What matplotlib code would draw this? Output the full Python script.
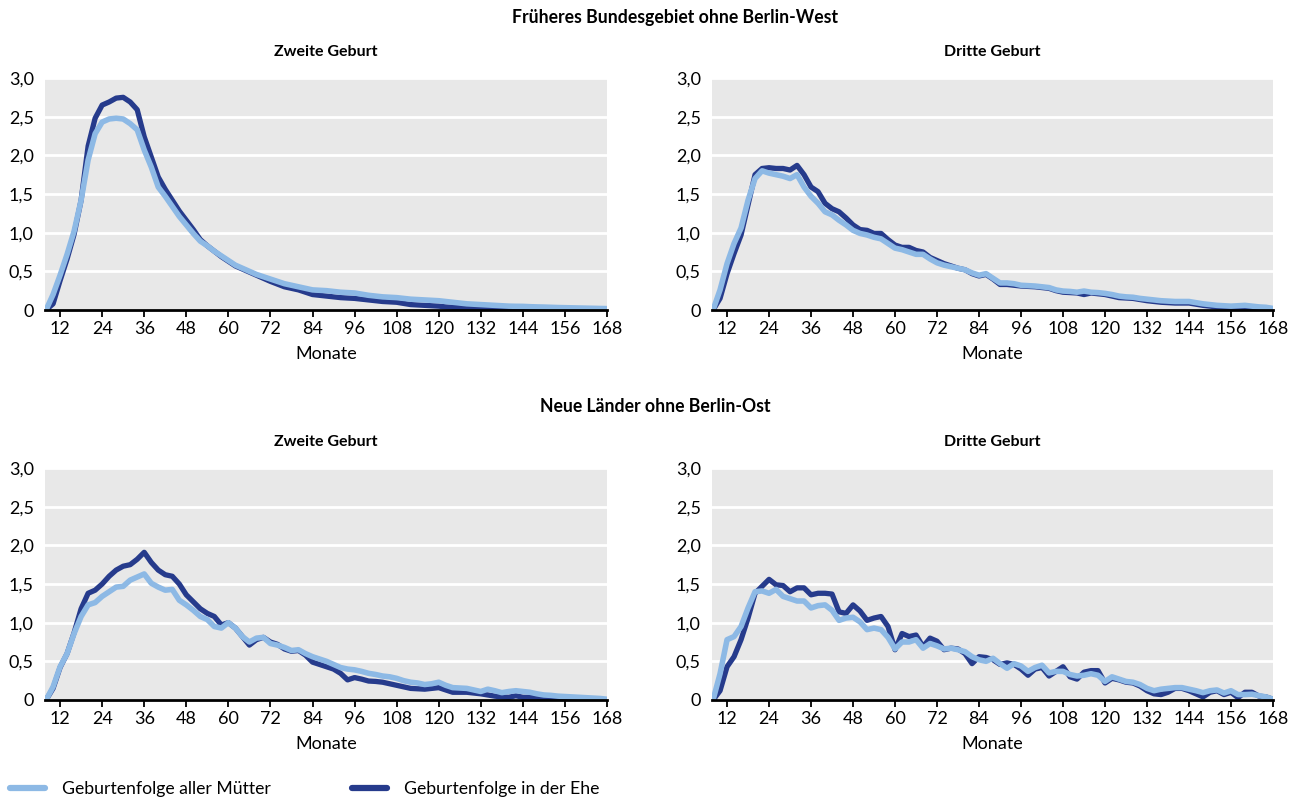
import numpy as np
import matplotlib.pyplot as plt
from matplotlib.lines import Line2D

plt.rcParams['font.family'] = ['Lato', 'DejaVu Sans']

# Monate 8, 10, ..., 168
months = list(range(8, 169, 2))

# Früheres Bundesgebiet, zweite Geburt
west2_all = [0.0, 0.2, 0.45, 0.72, 1.02, 1.42, 1.94, 2.28, 2.43, 2.47,
             2.48, 2.47, 2.41, 2.33, 2.07, 1.85, 1.59, 1.47, 1.34, 1.21,
             1.10, 0.99, 0.89, 0.83, 0.76, 0.70, 0.64, 0.58, 0.54, 0.50,
             0.46, 0.43, 0.40, 0.37, 0.34, 0.32, 0.30, 0.28, 0.26, 0.255,
             0.25, 0.24, 0.23, 0.225, 0.22, 0.205, 0.19, 0.18, 0.17, 0.165,
             0.16, 0.15, 0.14, 0.135, 0.13, 0.125, 0.12, 0.11, 0.10, 0.09,
             0.08, 0.075, 0.07, 0.065, 0.06, 0.055, 0.05, 0.048, 0.047, 0.043,
             0.04, 0.038, 0.035, 0.032, 0.03, 0.028, 0.026, 0.024, 0.022, 0.02,
             0.018]
west2_ehe = [0.0, 0.08, 0.38, 0.66, 0.98, 1.42, 2.12, 2.48, 2.65, 2.69,
             2.74, 2.75, 2.69, 2.59, 2.24, 1.98, 1.72, 1.56, 1.42, 1.28,
             1.16, 1.04, 0.91, 0.83, 0.76, 0.69, 0.63, 0.57, 0.53, 0.49,
             0.45, 0.41, 0.37, 0.335, 0.30, 0.28, 0.26, 0.23, 0.20, 0.19,
             0.18, 0.17, 0.16, 0.155, 0.15, 0.14, 0.13, 0.12, 0.11, 0.105,
             0.10, 0.085, 0.07, 0.065, 0.06, 0.055, 0.05, 0.04, 0.035, 0.03,
             0.02, 0.02, 0.02, 0.018, 0.015, 0.012, 0.01, 0.008, 0.006, 0.005,
             0.005, 0.004, 0.004, 0.003, 0.003, 0.002, 0.002, 0.002, 0.001, 0.001,
             0.0]

# Früheres Bundesgebiet, dritte Geburt
west3_all = [0.0, 0.26, 0.60, 0.86, 1.06, 1.42, 1.70, 1.80, 1.77, 1.75,
             1.73, 1.70, 1.75, 1.59, 1.47, 1.38, 1.27, 1.23, 1.16, 1.10,
             1.03, 0.99, 0.97, 0.94, 0.92, 0.86, 0.80, 0.78, 0.75, 0.72,
             0.72, 0.66, 0.61, 0.58, 0.56, 0.54, 0.52, 0.48, 0.45, 0.47,
             0.41, 0.35, 0.35, 0.34, 0.32, 0.315, 0.31, 0.30, 0.29, 0.26,
             0.245, 0.24, 0.23, 0.245, 0.23, 0.225, 0.215, 0.20, 0.18, 0.17,
             0.165, 0.15, 0.14, 0.13, 0.12, 0.115, 0.11, 0.11, 0.11, 0.095,
             0.08, 0.07, 0.06, 0.055, 0.05, 0.055, 0.06, 0.05, 0.04, 0.035,
             0.02]
west3_ehe = [0.0, 0.15, 0.47, 0.73, 0.97, 1.36, 1.75, 1.83, 1.84, 1.83,
             1.83, 1.81, 1.87, 1.75, 1.59, 1.53, 1.38, 1.31, 1.27, 1.19,
             1.10, 1.04, 1.03, 0.99, 0.99, 0.91, 0.84, 0.81, 0.81, 0.77,
             0.75, 0.68, 0.64, 0.60, 0.57, 0.54, 0.52, 0.47, 0.44, 0.46,
             0.40, 0.33, 0.33, 0.32, 0.31, 0.305, 0.30, 0.29, 0.28, 0.25,
             0.23, 0.225, 0.22, 0.20, 0.22, 0.21, 0.20, 0.18, 0.16, 0.155,
             0.15, 0.135, 0.12, 0.11, 0.10, 0.095, 0.09, 0.09, 0.09, 0.075,
             0.06, 0.05, 0.04, 0.035, 0.03, 0.03, 0.03, 0.03, 0.03, 0.02,
             0.0]

# Neue Länder, zweite Geburt
ost2_all = [0.0, 0.17, 0.43, 0.60, 0.86, 1.08, 1.23, 1.26, 1.34, 1.40,
            1.46, 1.47, 1.55, 1.59, 1.63, 1.51, 1.46, 1.42, 1.43, 1.29,
            1.23, 1.16, 1.08, 1.04, 0.95, 0.93, 1.00, 0.93, 0.82, 0.75,
            0.80, 0.81, 0.73, 0.71, 0.68, 0.64, 0.65, 0.60, 0.56, 0.53,
            0.50, 0.46, 0.42, 0.40, 0.39, 0.37, 0.345, 0.33, 0.31, 0.30,
            0.28, 0.25, 0.23, 0.22, 0.20, 0.21, 0.23, 0.19, 0.16, 0.155,
            0.15, 0.13, 0.11, 0.14, 0.12, 0.095, 0.11, 0.12, 0.11, 0.10,
            0.08, 0.065, 0.06, 0.05, 0.045, 0.04, 0.035, 0.03, 0.025, 0.02,
            0.01]
ost2_ehe = [0.0, 0.15, 0.42, 0.60, 0.87, 1.18, 1.38, 1.42, 1.50, 1.60,
            1.68, 1.73, 1.75, 1.82, 1.91, 1.78, 1.68, 1.62, 1.60, 1.50,
            1.36, 1.27, 1.18, 1.12, 1.08, 0.97, 1.00, 0.93, 0.82, 0.71,
            0.78, 0.81, 0.75, 0.72, 0.66, 0.63, 0.64, 0.58, 0.49, 0.46,
            0.43, 0.40, 0.345, 0.26, 0.29, 0.27, 0.245, 0.24, 0.23, 0.21,
            0.19, 0.17, 0.15, 0.145, 0.14, 0.15, 0.16, 0.13, 0.10, 0.10,
            0.10, 0.09, 0.08, 0.065, 0.05, 0.04, 0.035, 0.055, 0.035, 0.035,
            0.035, 0.02, 0.013, 0.012, 0.01, 0.01, 0.012, 0.012, 0.008, 0.004,
            0.0]

# Neue Länder, dritte Geburt
ost3_all = [0.0, 0.34, 0.78, 0.82, 0.95, 1.19, 1.40, 1.41, 1.38, 1.43,
            1.34, 1.31, 1.28, 1.28, 1.19, 1.22, 1.23, 1.16, 1.03, 1.06,
            1.07, 1.01, 0.91, 0.93, 0.91, 0.81, 0.66, 0.75, 0.75, 0.78,
            0.67, 0.73, 0.70, 0.66, 0.67, 0.65, 0.625, 0.56, 0.52, 0.50,
            0.54, 0.47, 0.41, 0.47, 0.44, 0.37, 0.42, 0.45, 0.35, 0.37,
            0.37, 0.33, 0.31, 0.32, 0.34, 0.32, 0.24, 0.30, 0.27, 0.24,
            0.23, 0.20, 0.15, 0.12, 0.14, 0.15, 0.16, 0.16, 0.14, 0.12,
            0.095, 0.12, 0.13, 0.09, 0.12, 0.07, 0.07, 0.075, 0.056, 0.04,
            0.01]
ost3_ehe = [0.0, 0.12, 0.43, 0.56, 0.78, 1.06, 1.38, 1.47, 1.56, 1.49,
            1.48, 1.40, 1.45, 1.45, 1.36, 1.38, 1.38, 1.37, 1.14, 1.12,
            1.23, 1.15, 1.03, 1.06, 1.08, 0.95, 0.65, 0.86, 0.82, 0.84,
            0.69, 0.80, 0.76, 0.65, 0.67, 0.66, 0.60, 0.47, 0.56, 0.55,
            0.52, 0.46, 0.48, 0.46, 0.40, 0.32, 0.40, 0.42, 0.31, 0.37,
            0.43, 0.30, 0.27, 0.36, 0.38, 0.38, 0.22, 0.28, 0.26, 0.23,
            0.22, 0.18, 0.12, 0.08, 0.07, 0.10, 0.15, 0.15, 0.12, 0.08,
            0.04, 0.10, 0.12, 0.07, 0.10, 0.03, 0.10, 0.10, 0.05, 0.04,
            0.01]

light = "#8DB9E5"
dark = "#263B8C"
W, H = 1299, 799

fig = plt.figure(figsize=(W / 100, H / 100), dpi=100)

def make_ax(x0, x1, y0, y1):
    return fig.add_axes([x0 / W, 1 - y1 / H, (x1 - x0) / W, (y1 - y0) / H])

panels = [
    (make_ax(45, 607, 78, 310), west2_all, west2_ehe, "Zweite Geburt"),
    (make_ax(712, 1273, 78, 310), west3_all, west3_ehe, "Dritte Geburt"),
    (make_ax(45, 607, 468, 700), ost2_all, ost2_ehe, "Zweite Geburt"),
    (make_ax(712, 1273, 468, 700), ost3_all, ost3_ehe, "Dritte Geburt"),
]

yticks = [0, 0.5, 1.0, 1.5, 2.0, 2.5, 3.0]
ylabels = ["0", "0,5", "1,0", "1,5", "2,0", "2,5", "3,0"]

for ax, s_all, s_ehe, title in panels:
    ax.set_facecolor("#E8E8E8")
    ax.plot(months, s_ehe, color=dark, lw=3.8, solid_capstyle="round", solid_joinstyle="round")
    ax.plot(months, s_all, color=light, lw=4.0, solid_capstyle="round", solid_joinstyle="round")
    ax.set_xlim(7.7, 168)
    ax.set_ylim(0, 3.0)
    ax.set_xticks(range(12, 169, 12))
    ax.set_yticks(yticks)
    ax.set_yticklabels(ylabels)
    ax.grid(axis="y", color="white", lw=2)
    ax.set_axisbelow(True)
    for side in ["top", "right", "left"]:
        ax.spines[side].set_visible(False)
    ax.spines["bottom"].set_linewidth(2)
    ax.spines["bottom"].set_zorder(5)
    ax.tick_params(axis="y", length=0, pad=8, labelsize=13)
    ax.tick_params(axis="x", length=5, width=1.3, pad=3, labelsize=13)
    for lab in ax.get_yticklabels():
        lab.set_horizontalalignment("right")
    ax.text(0.5, 1 + 26 / 232, title, transform=ax.transAxes, ha="center",
            va="center", fontsize=11.5, fontweight="bold")
    ax.text(0.5, -44 / 232, "Monate", transform=ax.transAxes, ha="center",
            va="center", fontsize=13)

fig.text(675 / W, 1 - 18 / H, "Früheres Bundesgebiet ohne Berlin-West",
         ha="center", va="center", fontsize=12.7, fontweight="bold")
fig.text(655 / W, 1 - 406 / H, "Neue Länder ohne Berlin-Ost",
         ha="center", va="center", fontsize=12.7, fontweight="bold")

handles = [Line2D([], [], color=light, lw=4.5, solid_capstyle="round"),
           Line2D([], [], color=dark, lw=4.5, solid_capstyle="round")]
fig.legend(handles, ["Geburtenfolge aller Mütter", "Geburtenfolge in der Ehe"],
           loc="center left", bbox_to_anchor=(10 / W, 1 - 789 / H), ncol=2,
           frameon=False, fontsize=12.7, handlelength=2.0, handletextpad=0.95,
           columnspacing=4.6, borderpad=0, borderaxespad=0)

fig.savefig("out.png", dpi=100)
